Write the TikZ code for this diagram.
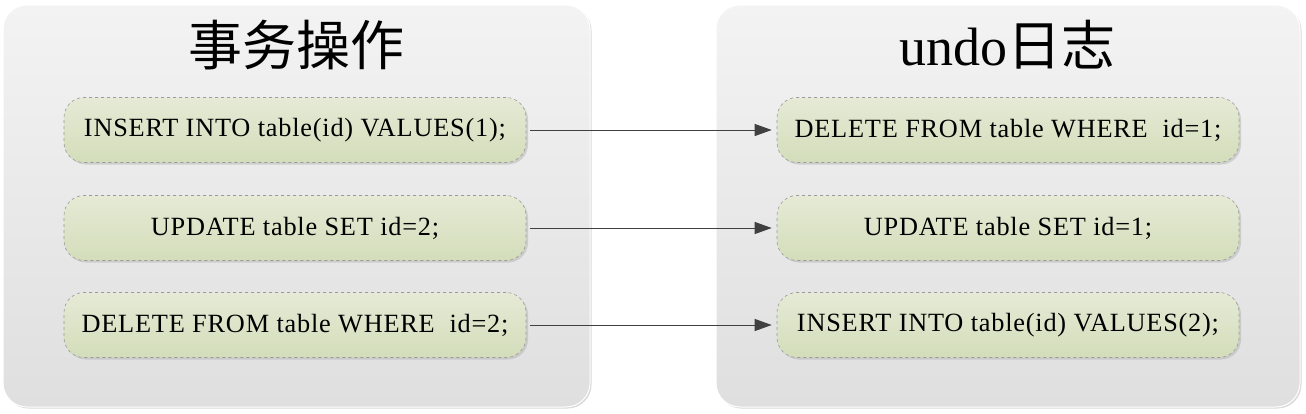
\documentclass[tikz,border=0pt]{standalone}
\usepackage{fontspec}
\setmainfont{Liberation Serif}
\newfontfamily\sqlfont[LetterSpace=3]{Liberation Serif}
\newfontfamily\cjk{Noto Sans CJK SC}
\usetikzlibrary{shadows,arrows.meta}
\definecolor{paneltop}{HTML}{F3F3F3}
\definecolor{panelbot}{HTML}{DFDFDF}
\definecolor{boxtop}{HTML}{E6EAD6}
\definecolor{boxbot}{HTML}{D3DDBA}
\definecolor{boxedge}{HTML}{9A9A9A}
\definecolor{arrowc}{HTML}{404040}
\tikzset{
  panel/.style={rounded corners=24pt, top color=paneltop, bottom color=panelbot, draw=white, line width=1pt,
     drop shadow={shadow xshift=1.5pt, shadow yshift=-1.5pt, fill=black!25, opacity=0.6}},
  sqlbox/.style={rounded corners=20pt, top color=boxtop, bottom color=boxbot, draw=boxedge, dashed, line width=0.6pt,
     minimum width=462pt, minimum height=65pt, font=\sqlfont\fontsize{26.3}{29}\selectfont, inner sep=0pt,
     drop shadow={shadow xshift=2pt, shadow yshift=-2pt, fill=black!30, opacity=0.5}},
  title/.style={font=\fontsize{54}{60}\selectfont},
  conn/.style={draw=arrowc, line width=1pt, -{Triangle[length=17pt,width=12pt]}}
}
\begin{document}
\begin{tikzpicture}[x=1pt,y=-1pt]
\useasboundingbox (0,0) rectangle (1306,413);
\path[panel] (3,5) rectangle (590,407);
\path[panel] (716,5) rectangle (1300,407);
\node[title] (t1) at (296,45) {\cjk 事务操作};
\node[title] (t2) at (1007,45) {undo{\cjk 日志}};
\node[sqlbox] (l1) at (295,130) {INSERT INTO table(id) VALUES(1);};
\node[sqlbox] (l2) at (295,228) {UPDATE table SET id=2;};
\node[sqlbox] (l3) at (295,325) {DELETE FROM table WHERE\ \ id=2;};
\node[sqlbox] (r1) at (1008,130) {DELETE FROM table WHERE\ \ id=1;};
\node[sqlbox] (r2) at (1008,228) {UPDATE table SET id=1;};
\node[sqlbox] (r3) at (1008,325) {INSERT INTO table(id) VALUES(2);};
\draw[conn] ([xshift=4pt]l1.east) -- ([xshift=-5pt]r1.west);
\draw[conn] ([xshift=4pt]l2.east) -- ([xshift=-5pt]r2.west);
\draw[conn] ([xshift=4pt]l3.east) -- ([xshift=-5pt]r3.west);
\end{tikzpicture}
\end{document}
